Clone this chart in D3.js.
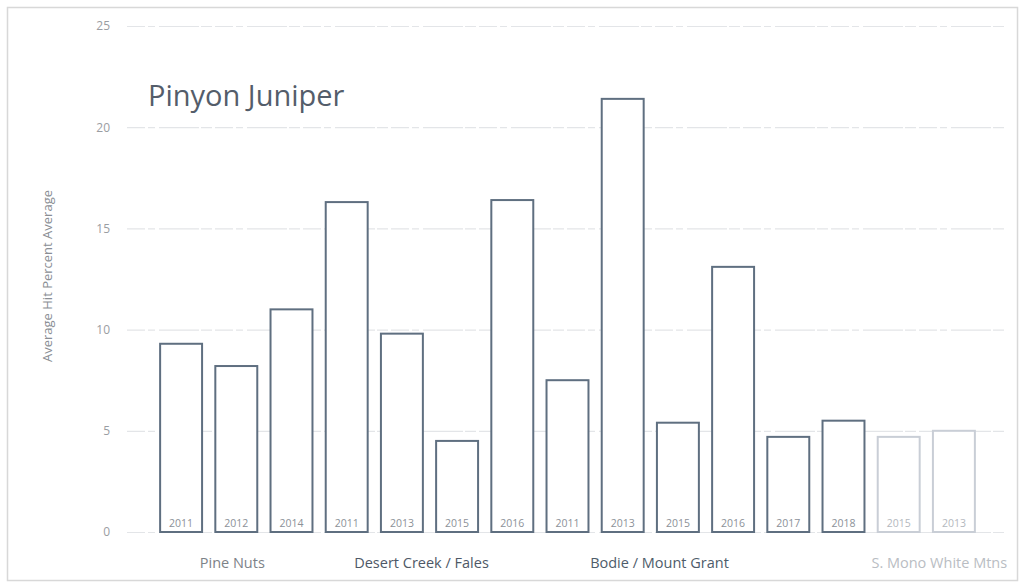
<!DOCTYPE html>
<html>
<head>
<meta charset="utf-8">
<script src="https://cdn.jsdelivr.net/npm/d3@7"></script>
<style>
  html, body { margin: 0; padding: 0; background: #fff; }
  svg { display: block; }
</style>
</head>
<body>
<svg id="chart" width="1022" height="584"></svg>
<script>
// Site/year categories and their average values
const years = ["2011", "2012", "2014", "2011", "2013", "2015", "2016", "2011", "2013", "2015", "2016", "2017", "2018", "2015", "2013"];
const values = [9.3, 8.2, 11.0, 16.3, 9.8, 4.5, 16.4, 7.5, 21.4, 5.4, 13.1, 4.7, 5.5, 4.7, 5.0];
const groupNames = ["Pine Nuts", "Desert Creek / Fales", "Bodie / Mount Grant", "S. Mono  White Mtns"];
const groupFirst = [0, 3, 7, 13];
const groupLast = [2, 6, 12, 14];
const yTicks = [0, 5, 10, 15, 20, 25];
const chartTitle = "Pinyon Juniper";
const yTitle = "Average Hit Percent Average";

const svg = d3.select("#chart");
const W = 1022, H = 584;
const plot = { left: 127, right: 1006, top: 26, bottom: 532 };

// frame
svg.append("rect")
  .attr("x", 7.5).attr("y", 7.5)
  .attr("width", W - 12).attr("height", H - 11)
  .attr("fill", "#fff").attr("stroke", "#d8d8d8").attr("stroke-width", 1.5);

const idx = d3.range(values.length);
const x = d3.scaleBand()
  .domain(idx)
  .range([153.5, 981.5])
  .paddingInner(0.24)
  .paddingOuter(0.12);

const y = d3.scaleLinear().domain([0, 25]).range([plot.bottom, plot.top]);

// gridlines + tick labels
const yAxis = d3.axisLeft(y).tickValues(yTicks).tickSize(-(plot.right - plot.left)).tickPadding(17);
const gy = svg.append("g").attr("transform", `translate(${plot.left},0)`).call(yAxis);
gy.select(".domain").remove();
gy.selectAll(".tick line")
  .attr("stroke", "#e3e5e8").attr("stroke-width", 1.2).attr("stroke-dasharray", "18,3,7,4,40,2,11,3");
gy.selectAll(".tick text")
  .attr("fill", "#9a9da2").attr("font-family", "Open Sans, sans-serif").attr("font-size", 12);

// bars
const faded = i => i >= 13;
svg.append("g").selectAll("rect")
  .data(idx)
  .join("rect")
  .attr("x", i => x(i))
  .attr("y", i => y(values[i]))
  .attr("width", x.bandwidth())
  .attr("height", i => y(0) - y(values[i]))
  .attr("fill", "#fff")
  .attr("stroke", i => faded(i) ? "#c9ced6" : "#5f6f80")
  .attr("stroke-width", 2);

// year labels inside the bars
svg.append("g").selectAll("text")
  .data(idx)
  .join("text")
  .attr("x", i => x(i) + x.bandwidth() / 2)
  .attr("y", y(0) - 5)
  .attr("text-anchor", "middle")
  .attr("font-family", "Open Sans, sans-serif")
  .attr("font-size", 10.5)
  .attr("fill", i => faded(i) ? "#b4b8be" : "#8c9198")
  .text(i => years[i]);

// group labels under the axis
const labelShift = [-4, -8, -46, 13];
const labelColor = ["#7d8288", "#4e5866", "#4e5c6a", "#b9bdc3"];
svg.append("g").selectAll("text")
  .data(groupNames)
  .join("text")
  .attr("x", (d, k) => (x(groupFirst[k]) + x(groupLast[k]) + x.bandwidth()) / 2 + labelShift[k])
  .attr("y", 568)
  .attr("text-anchor", "middle")
  .attr("font-family", "Open Sans, sans-serif")
  .attr("font-size", 14.5)
  .attr("fill", (d, k) => labelColor[k])
  .text(d => d);

// title
svg.append("text")
  .attr("x", 148).attr("y", 106)
  .attr("font-family", "Open Sans, sans-serif")
  .attr("font-size", 29)
  .attr("fill", "#545d6a")
  .text(chartTitle);

// y-axis title
svg.append("text")
  .attr("transform", `translate(52,${(plot.top + plot.bottom) / 2 - 3}) rotate(-90)`)
  .attr("text-anchor", "middle")
  .attr("font-family", "Open Sans, sans-serif")
  .attr("font-size", 13)
  .attr("fill", "#8a8e94")
  .text(yTitle);
</script>
</body>
</html>
